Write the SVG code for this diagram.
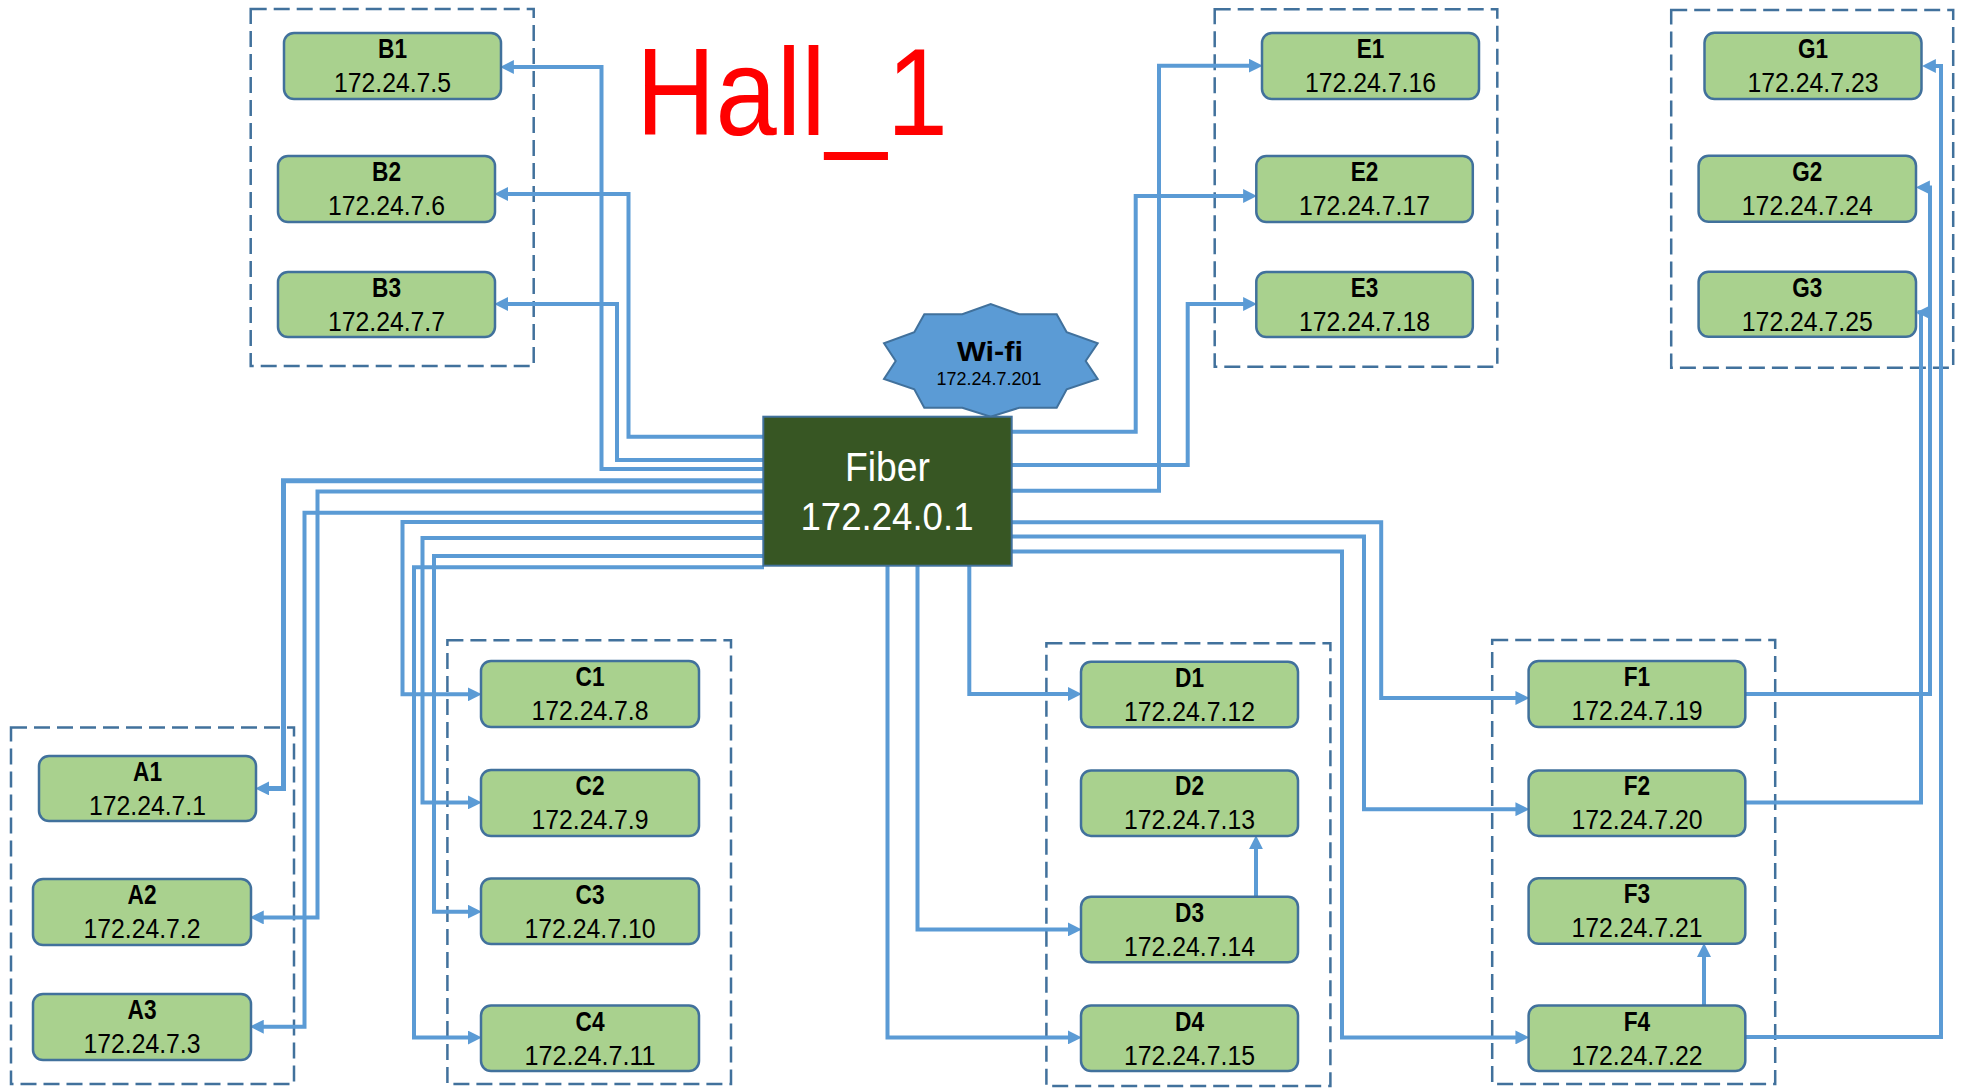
<svg xmlns="http://www.w3.org/2000/svg" width="1968" height="1088" viewBox="0 0 1968 1088">
<style>
.grp{fill:none;stroke:#41719C;stroke-width:2.5;stroke-dasharray:16 7}
.node{fill:#A9D18E;stroke:#41719C;stroke-width:2.5}
.lbl{font-family:"Liberation Sans",Arial,sans-serif;font-weight:bold;font-size:27px;text-anchor:middle;fill:#000}
.ip{font-family:"Liberation Sans",Arial,sans-serif;font-size:28.5px;text-anchor:middle;fill:#000}
.cn{fill:none;stroke:#5B9BD5;stroke-width:4;marker-end:url(#ah)}
</style>
<defs>
<marker id="ah" markerUnits="userSpaceOnUse" markerWidth="14" markerHeight="14" viewBox="0 0 12 12" refX="7" refY="6" orient="auto"><path d="M0,0 L12,6 L0,12 z" fill="#5B9BD5"/></marker>
<marker id="ah2" markerUnits="userSpaceOnUse" markerWidth="14" markerHeight="14" viewBox="0 0 12 12" refX="11" refY="6" orient="auto"><path d="M0,0 L12,6 L0,12 z" fill="#5B9BD5"/></marker>
</defs>
<rect width="1968" height="1088" fill="#fff"/>

<g id="groups">
<rect class="grp" x="11" y="727.5" width="283" height="356.5"/>
<rect class="grp" x="250.7" y="9" width="283" height="357"/>
<rect class="grp" x="447.4" y="640.2" width="283.6" height="443.8"/>
<rect class="grp" x="1046.4" y="643.2" width="284" height="442.8"/>
<rect class="grp" x="1214.7" y="9.3" width="282.6" height="357.4"/>
<rect class="grp" x="1492.2" y="640.1" width="283" height="443.9"/>
<rect class="grp" x="1671.2" y="10" width="282" height="357.7"/>
</g>

<text id="title" x="636" y="135" font-family="'Liberation Sans',Arial,sans-serif" font-size="124" fill="#FF0000" textLength="312" lengthAdjust="spacingAndGlyphs">Hall_1</text>

<g id="connectors">
<path class="cn" d="M763,469 H601.5 V67 H505.7"/>
<path class="cn" d="M763,436.7 H628.5 V194 H500"/>
<path class="cn" d="M763,460 H617 V304 H500"/>
<path class="cn" style="stroke-width:5" d="M766,480.7 H283.5 V788.4 H261"/>
<path class="cn" d="M763,491.5 H317.5 V917.4 H255.6"/>
<path class="cn" d="M763,512.8 H304.5 V1026.7 H255.6"/>
<path class="cn" d="M763,522 H402.5 V694.3 H476"/>
<path class="cn" d="M763,538 H422.5 V802.4 H476"/>
<path class="cn" d="M763,556 H434 V911.7 H476"/>
<path class="cn" d="M764,567.3 H414 V1037.5 H476"/>
<path class="cn" d="M969.3,565.7 V694 H1076"/>
<path class="cn" d="M917.5,565.7 V929.4 H1076"/>
<path class="cn" d="M887.5,565.7 V1037.4 H1076"/>
<path class="cn" d="M1256,896.7 V841"/>
<path class="cn" d="M1011.7,490.7 H1159 V65.7 H1257"/>
<path class="cn" d="M1011.7,431.7 H1135.7 V196 H1251.3"/>
<path class="cn" d="M1011.7,465 H1187.7 V304 H1251.3"/>
<path class="cn" d="M1011.7,522.3 H1381.2 V698 H1523.6"/>
<path class="cn" d="M1011.7,536.5 H1364 V809.2 H1523.6"/>
<path class="cn" d="M1011.7,551.5 H1342 V1037.4 H1523.6"/>
<path class="cn" d="M1704,1005.5 V948.8"/>
<path class="cn" d="M1745.3,694 H1930 V187.4 H1921.7"/>
<path class="cn" style="marker-end:url(#ah2)" d="M1745.3,802.4 H1921 V312.3 H1917.5"/>
<path class="cn" d="M1745.3,1037 H1941 V66 H1927.7"/>
</g>

<g id="wifi">
<polygon points="884,343.3 895.7,361 884,379 914.3,389.3 924.3,407.7 962.3,407.7 990.7,416.7 1019.3,407.7 1056.7,407.7 1066.7,389.3 1097.7,379 1085.7,361 1097.7,343.3 1066.7,332.3 1056.7,314.3 1019.3,314.3 990.7,304 962.3,314.3 924.3,314.3 914.3,332.3" fill="#5B9BD5" stroke="#41719C" stroke-width="2"/>
<text x="990" y="361" font-family="'Liberation Sans',Arial,sans-serif" font-weight="bold" font-size="28" text-anchor="middle" textLength="66" lengthAdjust="spacingAndGlyphs">Wi-fi</text>
<text x="989" y="385" font-family="'Liberation Sans',Arial,sans-serif" font-size="18" text-anchor="middle" textLength="105" lengthAdjust="spacingAndGlyphs">172.24.7.201</text>
</g>

<g id="fiber">
<rect x="763.3" y="416.7" width="248.4" height="149" fill="#375623" stroke="#41719C" stroke-width="2"/>
<text x="887.5" y="481" font-family="'Liberation Sans',Arial,sans-serif" font-size="40" fill="#fff" text-anchor="middle" textLength="85" lengthAdjust="spacingAndGlyphs">Fiber</text>
<text x="887" y="530" font-family="'Liberation Sans',Arial,sans-serif" font-size="38" fill="#fff" text-anchor="middle" textLength="173" lengthAdjust="spacingAndGlyphs">172.24.0.1</text>
</g>

<g id="A1"><rect class="node" x="39" y="756" width="217" height="65" rx="10"/><text class="lbl" x="147.5" y="781" textLength="29" lengthAdjust="spacingAndGlyphs">A1</text><text class="ip" x="147.5" y="815" textLength="117" lengthAdjust="spacingAndGlyphs">172.24.7.1</text></g>
<g id="A2"><rect class="node" x="33" y="879" width="218" height="66" rx="10"/><text class="lbl" x="142" y="904" textLength="29" lengthAdjust="spacingAndGlyphs">A2</text><text class="ip" x="142" y="938" textLength="117" lengthAdjust="spacingAndGlyphs">172.24.7.2</text></g>
<g id="A3"><rect class="node" x="33" y="994" width="218" height="66" rx="10"/><text class="lbl" x="142" y="1019" textLength="29" lengthAdjust="spacingAndGlyphs">A3</text><text class="ip" x="142" y="1053" textLength="117" lengthAdjust="spacingAndGlyphs">172.24.7.3</text></g>

<g id="B1"><rect class="node" x="284" y="33" width="217" height="66" rx="10"/><text class="lbl" x="392.5" y="58" textLength="29" lengthAdjust="spacingAndGlyphs">B1</text><text class="ip" x="392.5" y="92" textLength="117" lengthAdjust="spacingAndGlyphs">172.24.7.5</text></g>
<g id="B2"><rect class="node" x="278" y="156" width="217" height="66" rx="10"/><text class="lbl" x="386.5" y="181" textLength="29" lengthAdjust="spacingAndGlyphs">B2</text><text class="ip" x="386.5" y="215" textLength="117" lengthAdjust="spacingAndGlyphs">172.24.7.6</text></g>
<g id="B3"><rect class="node" x="278" y="272" width="217" height="65" rx="10"/><text class="lbl" x="386.5" y="297" textLength="29" lengthAdjust="spacingAndGlyphs">B3</text><text class="ip" x="386.5" y="331" textLength="117" lengthAdjust="spacingAndGlyphs">172.24.7.7</text></g>

<g id="C1"><rect class="node" x="481" y="661" width="218" height="66" rx="10"/><text class="lbl" x="590" y="686" textLength="29" lengthAdjust="spacingAndGlyphs">C1</text><text class="ip" x="590" y="720" textLength="117" lengthAdjust="spacingAndGlyphs">172.24.7.8</text></g>
<g id="C2"><rect class="node" x="481" y="770" width="218" height="66" rx="10"/><text class="lbl" x="590" y="795" textLength="29" lengthAdjust="spacingAndGlyphs">C2</text><text class="ip" x="590" y="829" textLength="117" lengthAdjust="spacingAndGlyphs">172.24.7.9</text></g>
<g id="C3"><rect class="node" x="481" y="878.5" width="218" height="65.5" rx="10"/><text class="lbl" x="590" y="903.5" textLength="29" lengthAdjust="spacingAndGlyphs">C3</text><text class="ip" x="590" y="937.5" textLength="131" lengthAdjust="spacingAndGlyphs">172.24.7.10</text></g>
<g id="C4"><rect class="node" x="481" y="1005.5" width="218" height="65.5" rx="10"/><text class="lbl" x="590" y="1030.5" textLength="29" lengthAdjust="spacingAndGlyphs">C4</text><text class="ip" x="590" y="1064.5" textLength="131" lengthAdjust="spacingAndGlyphs">172.24.7.11</text></g>

<g id="D1"><rect class="node" x="1081" y="661.7" width="217" height="65.5" rx="10"/><text class="lbl" x="1189.5" y="686.7" textLength="29" lengthAdjust="spacingAndGlyphs">D1</text><text class="ip" x="1189.5" y="720.7" textLength="131" lengthAdjust="spacingAndGlyphs">172.24.7.12</text></g>
<g id="D2"><rect class="node" x="1081" y="770.4" width="217" height="65.5" rx="10"/><text class="lbl" x="1189.5" y="795.4" textLength="29" lengthAdjust="spacingAndGlyphs">D2</text><text class="ip" x="1189.5" y="829.4" textLength="131" lengthAdjust="spacingAndGlyphs">172.24.7.13</text></g>
<g id="D3"><rect class="node" x="1081" y="896.7" width="217" height="65.5" rx="10"/><text class="lbl" x="1189.5" y="921.7" textLength="29" lengthAdjust="spacingAndGlyphs">D3</text><text class="ip" x="1189.5" y="955.7" textLength="131" lengthAdjust="spacingAndGlyphs">172.24.7.14</text></g>
<g id="D4"><rect class="node" x="1081" y="1005.5" width="217" height="65.5" rx="10"/><text class="lbl" x="1189.5" y="1030.5" textLength="29" lengthAdjust="spacingAndGlyphs">D4</text><text class="ip" x="1189.5" y="1064.5" textLength="131" lengthAdjust="spacingAndGlyphs">172.24.7.15</text></g>

<g id="E1"><rect class="node" x="1262" y="33" width="217" height="66" rx="10"/><text class="lbl" x="1370.5" y="58" textLength="27.6" lengthAdjust="spacingAndGlyphs">E1</text><text class="ip" x="1370.5" y="92" textLength="131" lengthAdjust="spacingAndGlyphs">172.24.7.16</text></g>
<g id="E2"><rect class="node" x="1256.3" y="156" width="216.5" height="66" rx="10"/><text class="lbl" x="1364.5" y="181" textLength="27.6" lengthAdjust="spacingAndGlyphs">E2</text><text class="ip" x="1364.5" y="215" textLength="131" lengthAdjust="spacingAndGlyphs">172.24.7.17</text></g>
<g id="E3"><rect class="node" x="1256.3" y="272" width="216.5" height="65" rx="10"/><text class="lbl" x="1364.5" y="297" textLength="27.6" lengthAdjust="spacingAndGlyphs">E3</text><text class="ip" x="1364.5" y="331" textLength="131" lengthAdjust="spacingAndGlyphs">172.24.7.18</text></g>

<g id="F1"><rect class="node" x="1528.6" y="661" width="216.7" height="66" rx="10"/><text class="lbl" x="1637" y="686" textLength="26.4" lengthAdjust="spacingAndGlyphs">F1</text><text class="ip" x="1637" y="720" textLength="131" lengthAdjust="spacingAndGlyphs">172.24.7.19</text></g>
<g id="F2"><rect class="node" x="1528.6" y="770.4" width="216.7" height="65.5" rx="10"/><text class="lbl" x="1637" y="795.4" textLength="26.4" lengthAdjust="spacingAndGlyphs">F2</text><text class="ip" x="1637" y="829.4" textLength="131" lengthAdjust="spacingAndGlyphs">172.24.7.20</text></g>
<g id="F3"><rect class="node" x="1528.6" y="878.2" width="216.7" height="65.5" rx="10"/><text class="lbl" x="1637" y="903.2" textLength="26.4" lengthAdjust="spacingAndGlyphs">F3</text><text class="ip" x="1637" y="937.2" textLength="131" lengthAdjust="spacingAndGlyphs">172.24.7.21</text></g>
<g id="F4"><rect class="node" x="1528.6" y="1005.5" width="216.7" height="65.5" rx="10"/><text class="lbl" x="1637" y="1030.5" textLength="26.4" lengthAdjust="spacingAndGlyphs">F4</text><text class="ip" x="1637" y="1064.5" textLength="131" lengthAdjust="spacingAndGlyphs">172.24.7.22</text></g>

<g id="G1"><rect class="node" x="1704.5" y="32.7" width="217" height="66.3" rx="10"/><text class="lbl" x="1813" y="57.7" textLength="30" lengthAdjust="spacingAndGlyphs">G1</text><text class="ip" x="1813" y="91.7" textLength="131" lengthAdjust="spacingAndGlyphs">172.24.7.23</text></g>
<g id="G2"><rect class="node" x="1698.6" y="155.7" width="217.4" height="66" rx="10"/><text class="lbl" x="1807.3" y="180.7" textLength="30" lengthAdjust="spacingAndGlyphs">G2</text><text class="ip" x="1807.3" y="214.7" textLength="131" lengthAdjust="spacingAndGlyphs">172.24.7.24</text></g>
<g id="G3"><rect class="node" x="1698.6" y="271.7" width="217.4" height="65" rx="10"/><text class="lbl" x="1807.3" y="296.7" textLength="30" lengthAdjust="spacingAndGlyphs">G3</text><text class="ip" x="1807.3" y="330.7" textLength="131" lengthAdjust="spacingAndGlyphs">172.24.7.25</text></g>
</svg>
